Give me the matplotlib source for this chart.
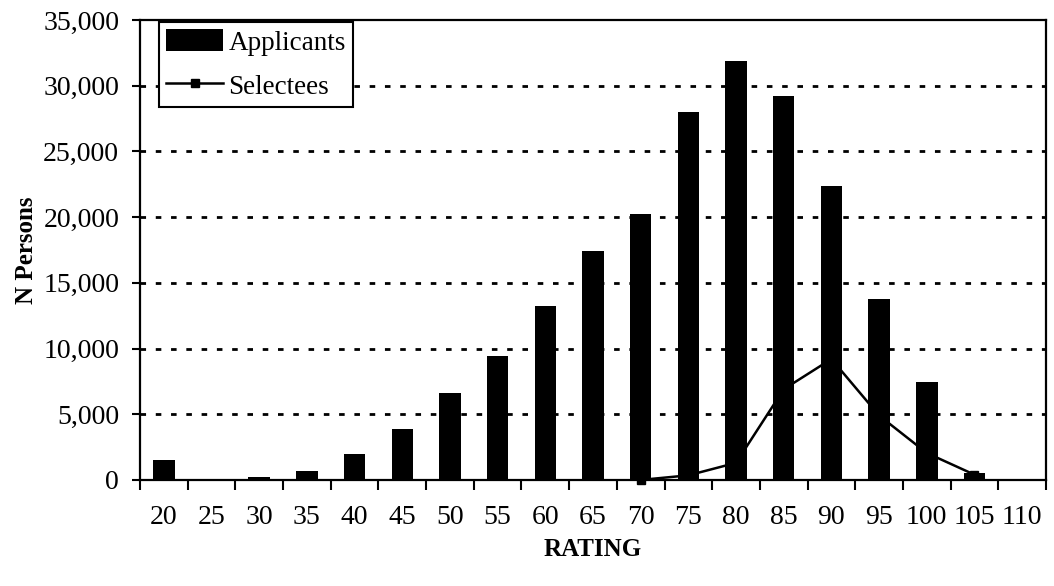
import matplotlib
matplotlib.use("Agg")
import matplotlib.pyplot as plt
import numpy as np

# ratings and counts
ratings = ["20", "25", "30", "35", "40", "45", "50", "55", "60", "65",
           "70", "75", "80", "85", "90", "95", "100", "105", "110"]
applicants = [1530, 0, 200, 660, 1990, 3900, 6650, 9430, 13260, 17400,
              20250, 28020, 31900, 29240, 22330, 13800, 7450, 550, 100]
sel_ratings = ["70", "75", "80", "85", "90", "95", "100", "105"]
selectees = [0, 350, 1300, 6900, 9200, 4900, 2050, 400]
y_ticks = [0, 5000, 10000, 15000, 20000, 25000, 30000, 35000]

plt.rcParams['font.family'] = ['Liberation Serif', 'DejaVu Serif']

fig = plt.figure(figsize=(10.54, 5.86), dpi=100)
ax = fig.add_axes([0.1328, 0.181, 0.8596, 0.785])

x = np.arange(len(ratings))
bars = ax.bar(x, applicants, width=0.45, color="black", label="Applicants", zorder=3)
sx = [ratings.index(r) for r in sel_ratings]
line, = ax.plot(sx, selectees, color="black", lw=1.8, marker="s", markersize=6,
                label="Selectees", zorder=4, clip_on=False)

ax.set_xlim(-0.5, len(ratings) - 0.5)
ax.set_ylim(0, 35000)
ax.set_yticks(y_ticks)
ax.set_yticklabels([f"{v:,}" for v in y_ticks])
for v in y_ticks[1:-1]:
    ax.axhline(v, color="black", lw=2, linestyle=(0, (2, 3.5)), zorder=1)

# ticks at category boundaries, labels at centers
ax.set_xticks(np.arange(len(ratings) + 1) - 0.5)
ax.set_xticklabels([])
ax.set_xticks(x, minor=True)
ax.set_xticklabels(ratings, minor=True)
ax.tick_params(axis="x", which="major", length=7, width=1.5, direction="out")
ax.tick_params(axis="x", which="minor", length=0, pad=18, labelsize=20)
ax.tick_params(axis="y", length=6, width=1.5, direction="out", labelsize=20, pad=9)

for s in ax.spines.values():
    s.set_linewidth(1.6)
    s.set_color("black")

ax.set_xlabel("RATING", fontsize=18, fontweight="bold", labelpad=6)
ax.set_ylabel("N Persons", fontsize=18, fontweight="bold", labelpad=4)

leg = ax.legend([bars, line], ["Applicants", "Selectees"], loc="upper left",
                bbox_to_anchor=(0.02, 0.998), fontsize=19.5,
                frameon=True, fancybox=False, edgecolor="black", framealpha=1,
                handlelength=2.1, handleheight=0.9, handletextpad=0.2,
                borderpad=0.25, labelspacing=0.65, borderaxespad=0.05)
leg.get_frame().set_linewidth(1.5)
leg.set_zorder(5)

fig.savefig("out.png", dpi=100)
